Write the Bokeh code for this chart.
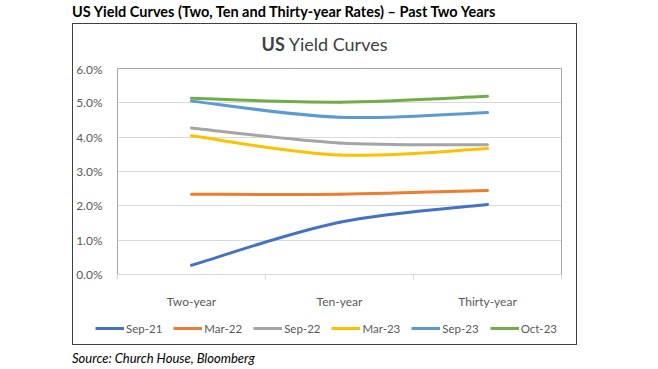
from bokeh.plotting import figure
from bokeh.models import (Range1d, FixedTicker, PrintfTickFormatter, Legend, LegendItem, Div)
from bokeh.layouts import column
from bokeh.embed import file_html
from bokeh.resources import INLINE

categories = ["Two-year", "Ten-year", "Thirty-year"]
series_names = ["Sep-21", "Mar-22", "Sep-22", "Mar-23", "Sep-23", "Oct-23"]
sep21 = [0.27, 1.52, 2.04]
mar22 = [2.34, 2.34, 2.45]
sep22 = [4.27, 3.83, 3.78]
mar23 = [4.04, 3.48, 3.67]
sep23 = [5.05, 4.58, 4.72]
oct23 = [5.13, 5.02, 5.19]
y_ticks = [0, 1, 2, 3, 4, 5, 6]

colors = ["#4472C4", "#ED7D31", "#A5A5A5", "#FFC000", "#5B9BD5", "#70AD47"]
series = [sep21, mar22, sep22, mar23, sep23, oct23]

FONT = "Lato"

p = figure(width=503, height=250, output_backend="svg", toolbar_location=None, title=None,
           x_range=Range1d(0, 3), y_range=Range1d(0, 6),
           min_border_left=44, min_border_right=15, min_border_top=7, min_border_bottom=28,
           margin=0)
p.background_fill_color = "white"
p.border_fill_color = "white"
p.outline_line_color = "#a6a6a6"
p.outline_line_width = 1

xs = [i + 0.5 for i in range(len(categories))]
p.xaxis.ticker = FixedTicker(ticks=xs, minor_ticks=[0, 1, 2, 3])
p.xaxis.major_label_overrides = {x: c for x, c in zip(xs, categories)}
p.xaxis.major_tick_line_color = None
p.xaxis.major_tick_out = 0
p.xaxis.major_tick_in = 0
p.xaxis.minor_tick_out = 5
p.xaxis.minor_tick_in = 0
p.xaxis.minor_tick_line_color = "#d9d9d9"
p.xaxis.axis_line_color = "#d9d9d9"
p.xaxis.major_label_standoff = 14
p.xaxis.major_label_text_font = FONT
p.xaxis.major_label_text_font_size = "12px"
p.xaxis.major_label_text_color = "#595959"

p.yaxis.ticker = FixedTicker(ticks=y_ticks)
p.yaxis.formatter = PrintfTickFormatter(format="%.1f%%")
p.yaxis.axis_line_color = None
p.yaxis.major_tick_line_color = None
p.yaxis.minor_tick_line_color = None
p.yaxis.major_label_standoff = 9
p.yaxis.major_label_text_font = FONT
p.yaxis.major_label_text_font_size = "12px"
p.yaxis.major_label_text_color = "#595959"

p.xgrid.grid_line_color = None
p.ygrid.grid_line_color = "#d9d9d9"
p.ygrid.grid_line_width = 1


def smooth_segments(xv, yv):
    # Bezier control points for a smoothed line (like Excel's "smoothed line")
    n = len(xv)
    segs = {"x0": [], "y0": [], "x1": [], "y1": [], "cx0": [], "cy0": [], "cx1": [], "cy1": []}
    for i in range(n - 1):
        i0 = max(i - 1, 0)
        i3 = min(i + 2, n - 1)
        segs["x0"].append(xv[i]); segs["y0"].append(yv[i])
        segs["x1"].append(xv[i + 1]); segs["y1"].append(yv[i + 1])
        segs["cx0"].append(xv[i] + (xv[i + 1] - xv[i0]) / 6)
        segs["cy0"].append(yv[i] + (yv[i + 1] - yv[i0]) / 6)
        segs["cx1"].append(xv[i + 1] - (xv[i3] - xv[i]) / 6)
        segs["cy1"].append(yv[i + 1] - (yv[i3] - yv[i]) / 6)
    return segs


for name, vals, col in zip(series_names, series, colors):
    s = smooth_segments(xs, vals)
    p.bezier(line_color=col, line_width=3, line_cap="round", **s)

# legend strip: a small figure whose view is outside the data, holding only the legend
pl = figure(width=503, height=33, output_backend="svg", toolbar_location=None, title=None,
            x_range=Range1d(0, 3), y_range=Range1d(-20, -19), x_axis_type=None, y_axis_type=None,
            min_border=0, min_border_left=0, min_border_right=0, min_border_top=0,
            min_border_bottom=0, margin=0)
if "frame_align" in pl.properties():
    pl.frame_align = False
    p.frame_align = False
pl.outline_line_color = None
pl.border_fill_color = "white"
items = []
for name, vals, col in zip(series_names, series, colors):
    r = pl.line(x=xs, y=vals, line_color=col, line_width=3)
    items.append(LegendItem(label=name, renderers=[r]))
legend = Legend(items=items, orientation="horizontal", location=(22, 9),
                glyph_width=29, glyph_height=14, label_standoff=2, spacing=11,
                padding=0, margin=0, border_line_color=None, background_fill_alpha=0,
                label_text_font=FONT, label_text_font_size="11.5px",
                label_text_color="#595959", label_height=14)
pl.add_layout(legend, "center")

title_div = Div(text="US Yield Curves (Two, Ten and Thirty-year Rates) \u2013 Past Two Years",
                width=580, height=14, margin=(5, 0, 0, 72),
                styles={"font-family": FONT, "font-weight": "bold", "font-size": "14.5px",
                        "line-height": "14px", "color": "#000000", "white-space": "nowrap"})

chart_title = Div(text="<b>US</b> Yield Curves", width=503, height=37, margin=0,
                  styles={"font-family": FONT, "font-size": "18px", "line-height": "41px",
                          "color": "#404040", "text-align": "center", "white-space": "nowrap"})

box = column(chart_title, p, pl, margin=(4, 0, 0, 72), spacing=0,
             styles={"border": "1.5px solid #404040", "background-color": "white"})

source_div = Div(text="Source: Church House, Bloomberg", width=400, height=20, margin=(0, 0, 0, 72),
                 styles={"font-family": FONT, "font-style": "italic", "font-size": "13px",
                         "line-height": "27px", "color": "#000000", "white-space": "nowrap"})

layout = column(title_div, box, source_div, margin=0, spacing=0)

open("out.html", "w").write(file_html(layout, INLINE))
